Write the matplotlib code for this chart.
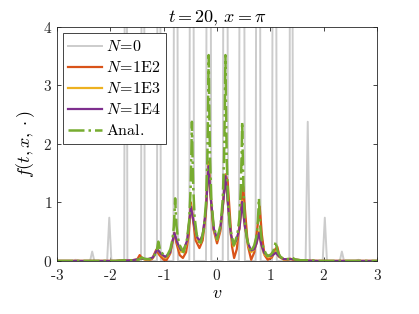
import matplotlib
matplotlib.use("Agg")
import matplotlib.pyplot as plt

plt.rcParams['mathtext.fontset'] = 'cm'
plt.rcParams['font.family'] = ['DejaVu Serif']

# ---- data ----
gray_v = [-3.0, -2.70, -2.65, -2.60, -2.38, -2.34, -2.30, -2.06, -2.02, -1.98,
          -1.74, -1.728, -1.692, -1.68,
          -1.425, -1.4125, -1.3675, -1.355,
          -1.127, -1.115, -1.065, -1.053,
          -0.818, -0.806, -0.744, -0.732,
          -0.52, -0.5075, -0.4425, -0.43,
          -0.207, -0.1945, -0.1195, -0.107,
          0.107, 0.1195, 0.1945, 0.207,
          0.41, 0.4235, 0.5085, 0.522,
          0.723, 0.735, 0.805, 0.817,
          1.03, 1.0425, 1.1075, 1.12,
          1.355, 1.3675, 1.4125, 1.425,
          1.66, 1.70, 1.74, 1.98, 2.02, 2.06, 2.30, 2.34, 2.38, 2.60, 2.65, 2.70, 3.0]
gray_f = [0.0, 0.0, 0.02, 0.0, 0.0, 0.16, 0.0, 0.0, 0.74, 0.0,
          0.0, 6.0, 6.0, 0.0,
          0.0, 6.0, 6.0, 0.0,
          0.0, 6.0, 6.0, 0.0,
          0.0, 6.0, 6.0, 0.0,
          0.0, 6.0, 6.0, 0.0,
          0.0, 6.0, 6.0, 0.0,
          0.0, 6.0, 6.0, 0.0,
          0.0, 6.0, 6.0, 0.0,
          0.0, 6.0, 6.0, 0.0,
          0.0, 6.0, 6.0, 0.0,
          0.0, 6.0, 6.0, 0.0,
          0.0, 2.38, 0.0, 0.0, 0.74, 0.0, 0.0, 0.16, 0.0, 0.0, 0.02, 0.0, 0.0]

n1e2_v = [-3.0, -1.9, -1.75, -1.62, -1.50, -1.45, -1.40, -1.30, -1.22, -1.14, -1.08,
          -1.00, -0.95, -0.88, -0.80, -0.76, -0.70, -0.64, -0.58, -0.53, -0.49,
          -0.45, -0.40, -0.33, -0.27, -0.21, -0.16, -0.12, -0.07, 0.0, 0.06, 0.11,
          0.16, 0.20, 0.24, 0.28, 0.32, 0.37, 0.43, 0.49, 0.53, 0.58, 0.64, 0.70,
          0.76, 0.80, 0.84, 0.89, 0.95, 1.03, 1.09, 1.13, 1.17, 1.25, 1.32, 1.37,
          1.45, 1.6, 3.0]
n1e2_f = [0.0, 0.0, 0.01, 0.0, 0.02, 0.10, 0.04, 0.01, 0.03, 0.19, 0.10,
          0.02, 0.01, 0.12, 0.48, 0.30, 0.10, 0.05, 0.15, 0.45, 1.00,
          0.70, 0.35, 0.22, 0.35, 0.80, 1.70, 1.10, 0.55, 0.30, 0.50, 0.95,
          1.48, 1.35, 0.80, 0.25, 0.05, 0.20, 0.70, 1.27, 0.80, 0.25, 0.02, 0.15,
          0.60, 0.93, 0.45, 0.10, 0.02, 0.06, 0.20, 0.24, 0.08, 0.03, 0.02, 0.04,
          0.01, 0.0, 0.0]

n1e3_v = [-3.0, -1.9, -1.6, -1.42, -1.30, -1.20, -1.12, -1.05, -0.97, -0.88, -0.80,
          -0.74, -0.68, -0.63, -0.56, -0.49, -0.43, -0.37, -0.32, -0.27, -0.21,
          -0.16, -0.11, -0.06, 0.0, 0.06, 0.11, 0.16, 0.21, 0.26, 0.31, 0.36, 0.42,
          0.47, 0.52, 0.58, 0.64, 0.70, 0.74, 0.785, 0.83, 0.88, 0.95, 1.03, 1.10,
          1.16, 1.25, 1.40, 1.6, 1.9, 3.0]
n1e3_f = [0.0, 0.0, 0.01, 0.04, 0.02, 0.05, 0.20, 0.11, 0.05, 0.13, 0.48,
          0.29, 0.16, 0.15, 0.33, 0.95, 0.62, 0.37, 0.31, 0.43, 0.85,
          1.65, 1.02, 0.53, 0.36, 0.53, 0.95, 1.46, 0.92, 0.43, 0.25, 0.33, 0.55,
          1.03, 0.60, 0.27, 0.15, 0.19, 0.30, 0.50, 0.27, 0.12, 0.07, 0.08, 0.16,
          0.07, 0.02, 0.03, 0.01, 0.0, 0.0]

n1e4_v = [-3.0, -1.9, -1.6, -1.42, -1.30, -1.20, -1.12, -1.05, -0.97, -0.88, -0.80,
          -0.74, -0.68, -0.63, -0.56, -0.49, -0.43, -0.37, -0.32, -0.27, -0.21,
          -0.16, -0.11, -0.06, 0.0, 0.06, 0.11, 0.16, 0.21, 0.26, 0.31, 0.36, 0.42,
          0.47, 0.52, 0.58, 0.64, 0.70, 0.74, 0.785, 0.83, 0.88, 0.95, 1.03, 1.10,
          1.16, 1.25, 1.40, 1.6, 1.9, 3.0]
n1e4_f = [0.0, 0.0, 0.01, 0.04, 0.03, 0.06, 0.20, 0.12, 0.07, 0.14, 0.48,
          0.30, 0.19, 0.18, 0.35, 0.93, 0.62, 0.40, 0.34, 0.45, 0.85,
          1.62, 1.00, 0.55, 0.38, 0.55, 0.95, 1.45, 0.90, 0.45, 0.28, 0.35, 0.55,
          1.01, 0.60, 0.30, 0.18, 0.20, 0.30, 0.48, 0.28, 0.14, 0.09, 0.09, 0.14,
          0.08, 0.03, 0.03, 0.01, 0.0, 0.0]

anal_v = [-3.0, -1.9, -1.73, -1.57, -1.46, -1.41, -1.36, -1.257,
          -1.19, -1.15, -1.125, -1.11, -1.10, -1.09, -1.075, -1.05, -1.01, -0.942,
          -0.875, -0.835, -0.81, -0.795, -0.785, -0.775, -0.76, -0.735, -0.695, -0.628,
          -0.561, -0.521, -0.496, -0.481, -0.471, -0.461, -0.446, -0.421, -0.381, -0.314,
          -0.247, -0.207, -0.182, -0.167, -0.157, -0.147, -0.132, -0.107, -0.067, 0.0,
          0.067, 0.107, 0.132, 0.147, 0.157, 0.167, 0.182, 0.207, 0.247, 0.314,
          0.381, 0.421, 0.446, 0.461, 0.471, 0.481, 0.496, 0.521, 0.561, 0.628,
          0.695, 0.735, 0.76, 0.775, 0.785, 0.795, 0.81, 0.835, 0.875, 0.942,
          1.01, 1.05, 1.075, 1.09, 1.10, 1.11, 1.125, 1.15, 1.19, 1.257,
          1.36, 1.41, 1.46, 1.57, 1.73, 1.9, 3.0]
anal_f = [0.0, 0.0, 0.012, 0.01, 0.025, 0.06, 0.035, 0.03,
          0.07, 0.13, 0.20, 0.28, 0.33, 0.29, 0.22, 0.16, 0.11, 0.08,
          0.20, 0.37, 0.58, 0.85, 1.07, 0.86, 0.60, 0.40, 0.26, 0.15,
          0.38, 0.70, 1.22, 1.85, 2.38, 1.85, 1.25, 0.75, 0.45, 0.27,
          0.55, 1.00, 1.72, 2.70, 3.52, 2.70, 1.75, 1.05, 0.62, 0.37,
          0.62, 1.05, 1.75, 2.70, 3.52, 2.70, 1.72, 1.00, 0.55, 0.27,
          0.45, 0.75, 1.25, 1.85, 2.38, 1.85, 1.22, 0.70, 0.38, 0.15,
          0.26, 0.40, 0.60, 0.86, 1.07, 0.85, 0.58, 0.37, 0.20, 0.08,
          0.11, 0.16, 0.22, 0.29, 0.33, 0.28, 0.20, 0.13, 0.07, 0.03,
          0.035, 0.06, 0.025, 0.01, 0.012, 0.0, 0.0]

labels = [r'$N\!=\!0$', r'$N\!=\!\mathrm{1E2}$', r'$N\!=\!\mathrm{1E3}$',
          r'$N\!=\!\mathrm{1E4}$', r'$\mathrm{Anal.}$']
xticks = [-3, -2, -1, 0, 1, 2, 3]
yticks = [0, 1, 2, 3, 4]

# ---- figure ----
fig = plt.figure(figsize=(4.19, 3.14), dpi=100)
ax = fig.add_axes([0.136, 0.169, 0.764, 0.745])

ax.plot(gray_v, gray_f, color=(0.8, 0.8, 0.8), lw=1.4, label=labels[0])
ax.plot(n1e2_v, n1e2_f, color='#D95319', lw=1.6, label=labels[1])
ax.plot(n1e3_v, n1e3_f, color='#EDB120', lw=1.6, label=labels[2])
ax.plot(n1e4_v, n1e4_f, color='#7E2F8E', lw=1.6, label=labels[3])
ax.plot(anal_v, anal_f, color='#77AC30', lw=1.8, linestyle='-.', label=labels[4])

ax.set_xlim(-3, 3)
ax.set_ylim(0, 4)
ax.set_xticks(xticks)
ax.set_xticklabels([r'$\mathrm{%d}$' % t if t >= 0 else r'$\mathrm{\text{-}%d}$' % (-t) for t in xticks])
ax.set_yticks(yticks)
ax.set_yticklabels([r'$\mathrm{%d}$' % t for t in yticks])
ax.tick_params(direction='in', top=True, right=True, length=3, width=0.6,
               labelsize=11, colors='#262626')
ax.tick_params(axis='x', pad=5)
for s in ax.spines.values():
    s.set_color('#262626')
    s.set_linewidth(0.6)

ax.set_title(r'$t=20,\,x=\pi$', fontsize=13, pad=3)
ax.set_xlabel(r'$v$', fontsize=13, labelpad=1)
ax.set_ylabel(r'$f(t,x,\cdot)$', fontsize=13, labelpad=4)

leg = ax.legend(loc='upper left', fontsize=11.5, fancybox=False, framealpha=1,
                edgecolor='#262626', labelspacing=0.25, handlelength=2.1,
                handletextpad=0.3, borderpad=0.3, borderaxespad=0.4)
leg.get_frame().set_linewidth(0.6)

fig.savefig('out.png', dpi=100)
